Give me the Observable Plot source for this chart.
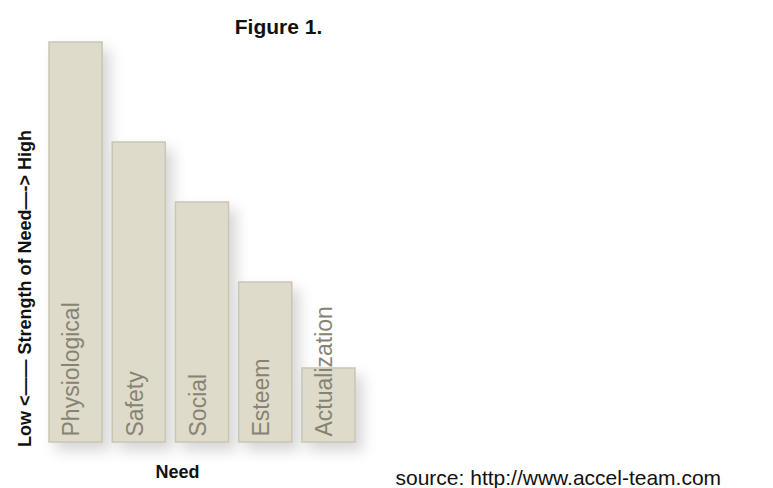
<!DOCTYPE html>
<html>
<head>
<meta charset="utf-8">
<script src="https://cdn.jsdelivr.net/npm/d3@7"></script>
<script src="https://cdn.jsdelivr.net/npm/@observablehq/plot@0.6"></script>
<style>
  html, body { margin: 0; padding: 0; background: #ffffff; }
</style>
</head>
<body>
<div id="chart"></div>
<script>
const needs = ["Physiological", "Safety", "Social", "Esteem", "Actualization"];
const strength = [100, 75, 60, 40, 18.5];
const titleText = ["Figure 1."];
const yLabel = ["Low <\u2014\u2014 Strength of Need\u2014-> High"];
const xLabel = ["Need"];
const sourceText = ["source: http://www.accel-team.com"];

const data = needs.map((n, i) => ({need: n, strength: strength[i]}));

const chart = Plot.plot({
  width: 773,
  height: 488,
  marginTop: 42,
  marginBottom: 46,
  marginLeft: 49,
  marginRight: 418,
  style: {fontFamily: "'Liberation Sans', Arial, sans-serif", background: "#ffffff"},
  x: {domain: needs, paddingInner: 0.16, paddingOuter: 0, round: false, axis: null},
  y: {domain: [0, 100], axis: null},
  marks: [
    Plot.barY(data, {x: "need", y: "strength", fill: "#dedbca", stroke: "#cbc5b2", strokeWidth: 1.5}),
    Plot.text(data, {x: "need", y: () => 0, text: "need", rotate: -90, textAnchor: "start",
      dx: -4, dy: -6, fill: "#878372", fontSize: 23}),
    Plot.text(titleText, {text: d => d, frameAnchor: "top", dx: 76, dy: -9, lineAnchor: "bottom",
      fontWeight: "bold", fontSize: 21, fill: "#111"}),
    Plot.text(yLabel, {text: d => d, frameAnchor: "left", rotate: -90, textAnchor: "middle",
      lineAnchor: "bottom", dx: -19, dy: 46, fontWeight: "bold", fontSize: 18, fill: "#111"}),
    Plot.text(xLabel, {text: d => d, frameAnchor: "bottom", dx: -25, dy: 35, lineAnchor: "bottom",
      fontWeight: "bold", fontSize: 18, fill: "#111"}),
    Plot.text(sourceText, {text: d => d, frameAnchor: "bottom-left", textAnchor: "start",
      dx: 346, dy: 42, lineAnchor: "bottom", fontSize: 21, fill: "#111"})
  ]
});

const barGroup = chart.querySelector('g[aria-label="bar"]');
if (barGroup) barGroup.style.filter = "drop-shadow(7px 8px 7px rgba(0,0,0,0.16))";
document.getElementById("chart").appendChild(chart);
</script>
</body>
</html>
